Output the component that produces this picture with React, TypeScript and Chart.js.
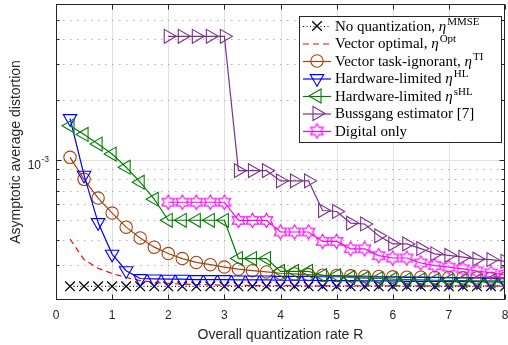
import React, { useEffect, useRef } from 'react';
import { Chart, registerables } from 'chart.js';

Chart.register(...registerables);

const SANS = '"Liberation Sans", Arial, Helvetica, sans-serif';
const SERIF = '"Liberation Serif", "Times New Roman", serif';

// ---------------- data ----------------
const rates = [0.25, 0.5, 0.75, 1, 1.25, 1.5, 1.75, 2, 2.25, 2.5, 2.75, 3, 3.25, 3.5, 3.75, 4,
  4.25, 4.5, 4.75, 5, 5.25, 5.5, 5.75, 6, 6.25, 6.5, 6.75, 7, 7.25, 7.5, 7.75, 8];

const noQuantization = [2.34e-4, 2.34e-4, 2.34e-4, 2.34e-4, 2.34e-4, 2.34e-4, 2.34e-4, 2.34e-4,
  2.34e-4, 2.34e-4, 2.34e-4, 2.34e-4, 2.34e-4, 2.34e-4, 2.34e-4, 2.34e-4,
  2.34e-4, 2.34e-4, 2.34e-4, 2.34e-4, 2.34e-4, 2.34e-4, 2.34e-4, 2.34e-4,
  2.34e-4, 2.34e-4, 2.34e-4, 2.34e-4, 2.34e-4, 2.34e-4, 2.34e-4, 2.34e-4];

const vectorOptimal = [4.03e-4, 3.18e-4, 2.88e-4, 2.71e-4, 2.59e-4, 2.5e-4, 2.45e-4, 2.42e-4,
  2.4e-4, 2.39e-4, 2.38e-4, 2.37e-4, 2.37e-4, 2.36e-4, 2.36e-4, 2.36e-4,
  2.36e-4, 2.35e-4, 2.35e-4, 2.35e-4, 2.35e-4, 2.35e-4, 2.35e-4, 2.35e-4,
  2.35e-4, 2.35e-4, 2.35e-4, 2.35e-4, 2.35e-4, 2.35e-4, 2.35e-4, 2.35e-4];

const taskIgnorant = [10.3e-4, 8.0e-4, 6.45e-4, 5.43e-4, 4.62e-4, 4.08e-4, 3.67e-4, 3.41e-4,
  3.22e-4, 3.08e-4, 3.0e-4, 2.92e-4, 2.85e-4, 2.8e-4, 2.76e-4, 2.72e-4,
  2.7e-4, 2.68e-4, 2.66e-4, 2.65e-4, 2.64e-4, 2.63e-4, 2.62e-4, 2.61e-4,
  2.6e-4, 2.6e-4, 2.59e-4, 2.59e-4, 2.58e-4, 2.58e-4, 2.57e-4, 2.57e-4];

const hardwareLimited = [16.1e-4, 8.4e-4, 4.87e-4, 3.39e-4, 2.8e-4, 2.56e-4, 2.55e-4, 2.54e-4,
  2.54e-4, 2.53e-4, 2.53e-4, 2.53e-4, 2.52e-4, 2.52e-4, 2.52e-4, 2.51e-4,
  2.51e-4, 2.51e-4, 2.5e-4, 2.5e-4, 2.5e-4, 2.49e-4, 2.49e-4, 2.49e-4,
  2.48e-4, 2.48e-4, 2.48e-4, 2.47e-4, 2.47e-4, 2.47e-4, 2.46e-4, 2.46e-4];

const hardwareLimitedS = [14.8e-4, 13.4e-4, 12.0e-4, 10.7e-4, 9.2e-4, 7.74e-4, 6.37e-4, 5.0e-4,
  5.0e-4, 5.0e-4, 5.0e-4, 5.0e-4, 3.22e-4, 3.22e-4, 3.22e-4, 2.78e-4,
  2.78e-4, 2.78e-4, 2.65e-4, 2.65e-4, 2.59e-4, 2.57e-4, 2.56e-4, 2.54e-4,
  2.53e-4, 2.52e-4, 2.51e-4, 2.5e-4, 2.5e-4, 2.49e-4, 2.49e-4, 2.48e-4];

const bussgang = [null, null, null, null, null, null, null, 41.4e-4,
  41.4e-4, 41.4e-4, 41.4e-4, 41.4e-4, 8.84e-4, 8.84e-4, 8.84e-4, 7.86e-4,
  7.86e-4, 7.86e-4, 5.59e-4, 5.53e-4, 4.84e-4, 4.79e-4, 4.18e-4, 3.81e-4,
  3.81e-4, 3.61e-4, 3.4e-4, 3.34e-4, 3.27e-4, 3.2e-4, 3.18e-4, 3.12e-4];

const digitalOnly = [null, null, null, null, null, null, null, 6.15e-4,
  6.15e-4, 6.15e-4, 6.15e-4, 6.15e-4, 4.99e-4, 4.99e-4, 4.99e-4, 4.37e-4,
  4.37e-4, 4.37e-4, 3.92e-4, 3.92e-4, 3.6e-4, 3.6e-4, 3.33e-4, 3.24e-4,
  3.24e-4, 3.06e-4, 2.97e-4, 2.92e-4, 2.86e-4, 2.79e-4, 2.73e-4, 2.68e-4];

const xTicks = [0, 1, 2, 3, 4, 5, 6, 7, 8];
const xTickLabels = ['0', '1', '2', '3', '4', '5', '6', '7', '8'];
const yMajorTicks = [1e-3];
const yMinorTicks = [3e-4, 4e-4, 5e-4, 6e-4, 7e-4, 8e-4, 9e-4, 2e-3, 3e-3, 4e-3, 5e-3];
const yTickBase = '10';
const yTickExp = '-3';
const xTitle = 'Overall quantization rate R';
const yTitle = 'Asymptotic average distortion';

// legend text: [plain, italic symbol, superscript]
const legendTexts: string[][] = [
  ['No quantization, ', 'η', 'MMSE'],
  ['Vector optimal, ', 'η', 'Opt'],
  ['Vector task-ignorant, ', 'η', 'TI'],
  ['Hardware-limited ', 'η', 'HL'],
  ['Hardware-limited ', 'η', 'sHL'],
  ['Bussgang estimator [7]'],
  ['Digital only'],
];

// ---------------- helpers ----------------
function makeHexagram(color: string, R: number) {
  const size = Math.ceil(R * 2 + 4);
  const c = document.createElement('canvas');
  c.width = size;
  c.height = size;
  const g = c.getContext('2d')!;
  const cx = size / 2, cy = size / 2;
  const r = R / Math.sqrt(3);
  g.beginPath();
  for (let k = 0; k < 12; k++) {
    const ang = -Math.PI / 2 + (k * Math.PI) / 6;
    const rad = k % 2 === 0 ? R : r;
    const px = cx + Math.cos(ang) * rad;
    const py = cy + Math.sin(ang) * rad;
    if (k === 0) g.moveTo(px, py); else g.lineTo(px, py);
  }
  g.closePath();
  g.strokeStyle = color;
  g.lineWidth = 1.1;
  g.stroke();
  return c;
}

function drawMarker(ctx: CanvasRenderingContext2D, s: any, x: number, y: number) {
  ctx.save();
  ctx.strokeStyle = s.color;
  ctx.lineWidth = s.mw;
  ctx.setLineDash([]);
  ctx.beginPath();
  if (s.style === 'crossRot') {
    const o = s.radius * Math.SQRT1_2;
    ctx.moveTo(x - o, y - o); ctx.lineTo(x + o, y + o);
    ctx.moveTo(x + o, y - o); ctx.lineTo(x - o, y + o);
    ctx.stroke();
  } else if (s.style === 'circle') {
    ctx.arc(x, y, s.radius, 0, Math.PI * 2);
    ctx.stroke();
  } else if (s.style === 'triangle') {
    let rad = (s.rotation * Math.PI) / 180;
    ctx.moveTo(x + Math.sin(rad) * s.radius, y - Math.cos(rad) * s.radius);
    rad += (2 * Math.PI) / 3;
    ctx.lineTo(x + Math.sin(rad) * s.radius, y - Math.cos(rad) * s.radius);
    rad += (2 * Math.PI) / 3;
    ctx.lineTo(x + Math.sin(rad) * s.radius, y - Math.cos(rad) * s.radius);
    ctx.closePath();
    ctx.stroke();
  } else if (s.style instanceof HTMLCanvasElement) {
    ctx.drawImage(s.style, x - s.style.width / 2, y - s.style.height / 2);
  }
  ctx.restore();
}

export default function App() {
  const ref = useRef<HTMLCanvasElement | null>(null);

  useEffect(() => {
    const canvas = ref.current;
    if (!canvas) return;
    const hexagram = makeHexagram('#ff00ff', 7.2);

    const series = [
      { values: noQuantization, color: '#000000', style: 'crossRot', radius: 6.8, rotation: 0, dash: [1, 2.5], mw: 1.3 },
      { values: vectorOptimal, color: '#ff0000', style: false, radius: 0, rotation: 0, dash: [6, 4], mw: 1 },
      { values: taskIgnorant, color: '#a3430f', style: 'circle', radius: 6.2, rotation: 0, dash: [], mw: 1.1 },
      { values: hardwareLimited, color: '#0000ff', style: 'triangle', radius: 7.8, rotation: 180, dash: [], mw: 1.1 },
      { values: hardwareLimitedS, color: '#008000', style: 'triangle', radius: 8, rotation: 270, dash: [], mw: 1.1 },
      { values: bussgang, color: '#7e2f8e', style: 'triangle', radius: 8, rotation: 90, dash: [], mw: 1.1 },
      { values: digitalOnly, color: '#ff00ff', style: hexagram as any, radius: 7, rotation: 0, dash: [], mw: 1.1 },
    ];

    const datasets = series.map((s, i) => ({
      label: legendTexts[i].join(''),
      data: rates
        .map((x, k) => ({ x, y: s.values[k] as number | null }))
        .filter((p) => p.y !== null),
      borderColor: s.color,
      backgroundColor: s.color,
      borderWidth: 1.2,
      borderDash: s.dash,
      pointStyle: s.style as any,
      pointRadius: s.radius,
      pointRotation: s.rotation,
      pointBorderColor: s.color,
      pointBackgroundColor: 'rgba(0,0,0,0)',
      pointBorderWidth: s.mw,
      tension: 0,
      fill: false,
      order: -i,
    }));

    const axesPlugin = {
      id: 'matlabAxes',
      beforeDatasetsDraw(chart: any) {
        const { ctx, chartArea, scales } = chart;
        const { left, right, top, bottom } = chartArea;
        const xs = scales.x, ys = scales.y;
        ctx.save();
        ctx.lineWidth = 1;
        ctx.strokeStyle = '#e0e0e0';
        xTicks.forEach((v) => {
          const px = Math.round(xs.getPixelForValue(v)) + 0.5;
          if (px <= left + 1 || px >= right - 1) return;
          ctx.beginPath(); ctx.moveTo(px, top); ctx.lineTo(px, bottom); ctx.stroke();
        });
        yMajorTicks.forEach((v) => {
          const py = Math.round(ys.getPixelForValue(v)) + 0.5;
          ctx.beginPath(); ctx.moveTo(left, py); ctx.lineTo(right, py); ctx.stroke();
        });
        ctx.setLineDash([1.5, 5.5]);
        ctx.strokeStyle = '#b0b0b0';
        yMinorTicks.forEach((v) => {
          const py = Math.round(ys.getPixelForValue(v)) + 0.5;
          ctx.beginPath(); ctx.moveTo(left, py); ctx.lineTo(right, py); ctx.stroke();
        });
        ctx.restore();
      },
      afterDraw(chart: any) {
        const { ctx, chartArea, scales } = chart;
        const { left, right, top, bottom } = chartArea;
        const xs = scales.x, ys = scales.y;
        ctx.save();
        ctx.setLineDash([]);
        ctx.strokeStyle = '#262626';
        ctx.lineWidth = 1;
        // frame
        const L = Math.round(left) + 0.5, R = Math.round(right) - 0.5;
        const T = Math.round(top) + 0.5, B = Math.round(bottom) - 0.5;
        ctx.strokeRect(L, T, R - L, B - T);
        // x ticks (inward, top & bottom) + labels
        ctx.fillStyle = '#262626';
        ctx.font = `12px ${SANS}`;
        ctx.textAlign = 'center';
        ctx.textBaseline = 'middle';
        xTicks.forEach((v, i) => {
          const rawX = xs.getPixelForValue(v);
          const px = Math.round(rawX) + 0.5;
          ctx.beginPath();
          ctx.moveTo(px, B); ctx.lineTo(px, B - 5);
          ctx.moveTo(px, T); ctx.lineTo(px, T + 5);
          ctx.stroke();
          ctx.fillText(xTickLabels[i], rawX, B + 16.5);
        });
        // y ticks
        const yt = (vals: number[], len: number) => vals.forEach((v) => {
          const py = Math.round(ys.getPixelForValue(v)) + 0.5;
          ctx.beginPath();
          ctx.moveTo(L, py); ctx.lineTo(L + len, py);
          ctx.moveTo(R, py); ctx.lineTo(R - len, py);
          ctx.stroke();
        });
        yt(yMajorTicks, 5);
        yt(yMinorTicks, 3);
        // y tick label 10^-3
        const py = ys.getPixelForValue(yMajorTicks[0]);
        ctx.textBaseline = 'alphabetic';
        ctx.textAlign = 'right';
        ctx.font = `12px ${SANS}`;
        ctx.fillText(yTickBase, 41, py + 9.5);
        ctx.textAlign = 'left';
        ctx.font = `8.5px ${SANS}`;
        ctx.fillText(yTickExp, 41.5, py + 2);

        // legend
        const bx = 299.5, by = 16.5, bw = 202, bh = 126;
        ctx.fillStyle = '#ffffff';
        ctx.fillRect(bx, by, bw, bh);
        ctx.strokeStyle = '#262626';
        ctx.strokeRect(bx, by, bw, bh);
        const rowY0 = 26, rowStep = 17.5;
        series.forEach((s, i) => {
          const ry = rowY0 + i * rowStep;
          ctx.save();
          ctx.strokeStyle = s.color;
          ctx.lineWidth = 1.2;
          ctx.setLineDash(s.dash);
          ctx.beginPath();
          ctx.moveTo(303, ry + 0.5); ctx.lineTo(331, ry + 0.5);
          ctx.stroke();
          ctx.restore();
          if (s.style) drawMarker(ctx, s, 317, ry);
          // text
          const parts = legendTexts[i];
          let cx = 335;
          const base = ry + 4.5;
          ctx.fillStyle = '#000000';
          ctx.textAlign = 'left';
          parts.forEach((p, k) => {
            if (k === 0) { ctx.font = `15px ${SERIF}`; ctx.fillText(p, cx, base); }
            else if (k === 1) { ctx.font = `italic 15px ${SERIF}`; ctx.fillText(p, cx, base); }
            else { ctx.font = `11px ${SERIF}`; ctx.fillText(p, cx, base - 6); }
            cx += ctx.measureText(p).width + (k === 1 ? 1 : 0);
          });
        });
        ctx.restore();
      },
    };

    const chart = new Chart(canvas, {
      type: 'line',
      data: { datasets: datasets as any },
      options: {
        responsive: false,
        animation: false,
        devicePixelRatio: 1,
        layout: { autoPadding: false, padding: { top: 4, right: 3, left: 0, bottom: 0 } },
        plugins: { legend: { display: false }, tooltip: { enabled: false } },
        scales: {
          x: {
            type: 'linear',
            min: 0,
            max: 8,
            grid: { display: false, drawTicks: false, tickLength: 0 },
            border: { display: false },
            ticks: { display: false, stepSize: 1 },
            title: {
              display: true,
              text: xTitle,
              color: '#262626',
              font: { family: SANS, size: 14 },
              padding: { top: 0, bottom: 1.5 },
            },
            afterFit(s: any) { s.height = 45; },
          },
          y: {
            type: 'logarithmic',
            min: 2e-4,
            max: 6e-3,
            grid: { display: false, drawTicks: false, tickLength: 0 },
            border: { display: false },
            ticks: { display: false },
            title: {
              display: true,
              text: yTitle,
              color: '#262626',
              font: { family: SANS, size: 14 },
              padding: { top: 8, bottom: 0 },
            },
            afterFit(s: any) { s.width = 56; },
          },
        },
      } as any,
      plugins: [axesPlugin],
    });
    return () => chart.destroy();
  }, []);

  return (
    <div style={{ position: 'fixed', left: 0, top: 0, width: 508, height: 345, background: '#fff' }}>
      <canvas ref={ref} width={508} height={345} style={{ display: 'block' }} />
    </div>
  );
}
